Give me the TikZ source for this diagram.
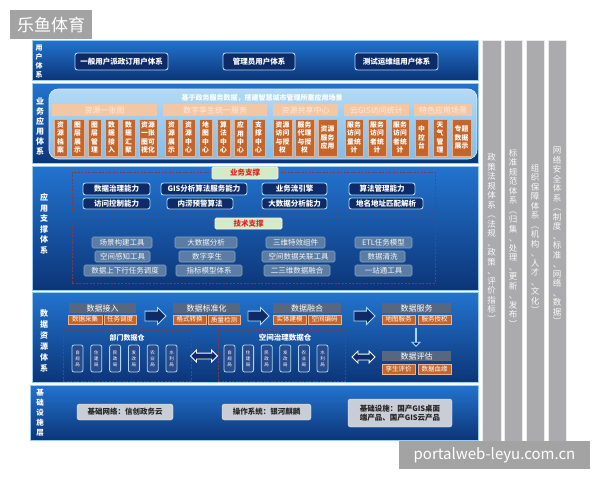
\documentclass[tikz,border=0pt]{standalone}
\usepackage{fontspec}
\setmainfont{Noto Sans CJK SC}
\usetikzlibrary{shapes.arrows}
\definecolor{rowtop}{HTML}{2374CF}
\definecolor{rowbot}{HTML}{0C3578}
\definecolor{rowedge}{HTML}{9CCBF0}
\definecolor{navy}{HTML}{0E2B68}
\definecolor{navyedge}{HTML}{A9D9F7}
\definecolor{pantop}{HTML}{B3DAF5}
\definecolor{panbot}{HTML}{86BCE6}
\definecolor{peach}{HTML}{F4C7A4}
\definecolor{peachtxt}{HTML}{FCEBDD}
\definecolor{orng}{HTML}{C4662C}
\definecolor{orngedge}{HTML}{EDB089}
\definecolor{techfill}{HTML}{5B7DA5}
\definecolor{techedge}{HTML}{86A3C6}
\definecolor{greenlab}{HTML}{D6EAC6}
\definecolor{redtxt}{HTML}{D9261C}
\definecolor{dashred}{HTML}{7E3B4E}
\definecolor{slate}{HTML}{56677F}
\definecolor{grycol}{HTML}{ABABAD}
\definecolor{wmgray}{HTML}{A3A3A3}
\definecolor{infrafill}{HTML}{C9CED6}
\definecolor{smallfill}{HTML}{2A4C8C}
\newcommand\fsz[2]{\fontsize{#1}{#2}\selectfont}
\newcommand\mybx[7]{\node[#1,minimum width={#5-#3},minimum height={#6-#4}] (#2) at ({(#3+#5)/2},{(#4+#6)/2}) {#7};}
\let\vtxend\relax
\def\vtxa#1{\ifx#1\vtxend\else\hbox to 1em{\hss#1\hss}\expandafter\vtxa\fi}
\newcommand\vtext[2]{\vbox{\baselineskip=#1pt\lineskiplimit=-20pt\lineskip=0pt\expandafter\vtxa#2\vtxend}}
\begin{document}
\begin{tikzpicture}[x=1pt,y=-1pt,
 row/.style={draw=rowedge,line width=0.8pt,top color=rowtop,bottom color=rowbot,inner sep=0pt},
 navybox/.style={draw=navyedge,line width=0.9pt,fill=navy,rounded corners=2.5pt,text=white,font=\fsz{7.5}{9}\bfseries,inner sep=0pt},
 peachbox/.style={fill=peach,text=peachtxt,font=\fsz{8}{9},inner sep=0pt},
 orbox/.style={fill=orng,draw=orngedge,line width=0.6pt,text=white,font=\fsz{6.8}{8.4}\bfseries,align=center,inner sep=0pt},
 techbox/.style={fill=techfill,draw=techedge,line width=0.6pt,rounded corners=1.5pt,text=white!92!techfill,font=\fsz{7.5}{9},inner sep=0pt},
 greenbox/.style={fill=greenlab,draw=white!60!greenlab,line width=0.8pt,rounded corners=1.5pt,text=redtxt,font=\fsz{7.5}{9}\bfseries,inner sep=0pt},
 dashbox/.style={draw=dashred,line width=0.7pt,dash pattern=on 2pt off 1.5pt,inner sep=0pt},
 hdrbox/.style={fill=slate,text=white,font=\fsz{8}{9},inner sep=0pt},
 subbox/.style={fill=orng,draw=orngedge,line width=0.6pt,text=white,font=\fsz{6.5}{8},inner sep=0pt},
 smallbox/.style={fill=smallfill,draw=navyedge,line width=0.8pt,rounded corners=2pt,text=white,font=\fsz{4.5}{6},inner sep=0pt},
 infrabox/.style={fill=infrafill,draw=white!60!infrafill,rounded corners=2.5pt,text=black!85,font=\fsz{7.5}{9}\bfseries,inner sep=0pt,align=center},
 sidelab/.style={text=white,inner sep=0pt},
 colbox/.style={fill=grycol,draw=white!75!grycol,line width=0.5pt,inner sep=0pt},
 coltxt/.style={text=white!93!grycol,font=\fsz{8.5}{9.5},inner sep=0pt},
 barrow/.style={single arrow,fill=navy,draw=navyedge,line width=0.9pt,inner xsep=0pt,inner ysep=4.5pt,single arrow head extend=3.5pt,minimum height=21pt},
 darrow/.style={double arrow,fill=navy,draw=white,line width=0.8pt,inner xsep=0pt,inner ysep=2.5pt,double arrow head extend=3pt},
 wm/.style={fill=wmgray,text=white,inner sep=0pt}
]
\useasboundingbox (0,0) rectangle (600,480);
\fill[white] (0,0) rectangle (600,480);
% rows
\mybx{row}{rUser}{32}{40}{478}{80}{}
\mybx{row}{rBiz}{32}{83}{478}{163}{}
\mybx{row}{rApp}{32}{166}{478}{290}{}
\mybx{row}{rData}{32}{292}{478}{382}{}
\mybx{row}{rInfra}{30}{385}{478}{440}{}
% side labels
\node[sidelab,font=\fsz{7}{9}\bfseries] (lab1) at (39,62) {\vtext{9}{用户体系}};
\node[sidelab,font=\fsz{8}{10}\bfseries] (lab2) at (40,127) {\vtext{10}{业务应用体系}};
\node[sidelab,font=\fsz{8}{10}\bfseries] (lab3) at (44,224) {\vtext{10.5}{应用支撑体系}};
\node[sidelab,font=\fsz{8}{10}\bfseries] (lab4) at (44,341) {\vtext{11}{数据资源体系}};
\node[sidelab,font=\fsz{7.5}{10}\bfseries] (lab5) at (40,413) {\vtext{10}{基础设施层}};
% user row
\mybx{navybox}{u1}{75}{53}{168}{70}{一般用户派政订用户体系}
\mybx{navybox}{u2}{223}{53}{295}{70}{管理员用户体系}
\mybx{navybox}{u3}{355}{53}{438}{70}{测试运维组用户体系}
% business row
\node[top color=pantop,bottom color=panbot,draw=white!60!pantop,line width=0.6pt,rounded corners=9pt,minimum width=428,minimum height=70,inner sep=0pt] (bizpanel) at (263,124) {};
\node[text=white,font=\fsz{7}{8}\bfseries,inner sep=0pt] (biztitle) at (262,98) {基于政务服务数据，搭建智慧城市管理所需应用场景};
\mybx{peachbox}{h1}{52}{104}{157}{116}{资源一张图}
\mybx{peachbox}{h2}{163}{104}{267}{116}{数字孪生统一服务}
\mybx{peachbox}{h3}{273}{104}{338}{116}{资源共享中心}
\mybx{peachbox}{h4}{344}{104}{409}{116}{云GIS访问统计}
\mybx{peachbox}{h5}{414}{104}{472}{116}{特色应用场景}
\mybx{orbox}{o1}{54}{119}{67}{156}{资\\源\\档\\案}
\mybx{orbox}{o2}{71}{119}{84}{156}{图\\层\\展\\示}
\mybx{orbox}{o3}{88}{119}{101}{156}{图\\层\\管\\理}
\mybx{orbox}{o4}{105}{119}{118}{156}{数\\据\\接\\入}
\mybx{orbox}{o5}{122}{119}{135}{156}{数\\据\\汇\\聚}
\mybx{orbox}{o6}{139}{119}{157}{156}{资源\\一张\\图可\\视化}
\mybx{orbox}{o7}{165}{119}{178}{156}{资\\源\\展\\示}
\mybx{orbox}{o8}{182}{119}{195}{156}{资\\源\\中\\心}
\mybx{orbox}{o9}{199}{119}{212}{156}{地\\图\\中\\心}
\mybx{orbox}{o10}{217}{119}{230}{156}{算\\法\\中\\心}
\mybx{orbox}{o11}{234}{119}{247}{156}{应\\用\\中\\心}
\mybx{orbox}{o12}{252}{119}{265}{156}{支\\撑\\中\\心}
\mybx{orbox}{o13}{273}{119}{292}{156}{资源\\访问\\与授\\权}
\mybx{orbox}{o14}{295}{119}{314}{156}{服务\\代理\\与授\\权}
\mybx{orbox}{o15}{318}{119}{337}{156}{资源\\服务\\应用}
\mybx{orbox}{o16}{345}{119}{363}{156}{服务\\访问\\量统\\计}
\mybx{orbox}{o17}{368}{119}{386}{156}{服务\\访问\\者统\\计}
\mybx{orbox}{o18}{391}{119}{409}{156}{服务\\访问\\者统\\计}
\mybx{orbox}{o19}{415}{119}{428}{156}{中\\控\\台}
\mybx{orbox}{o20}{433}{119}{447}{156}{天\\气\\管\\理}
\mybx{orbox}{o21}{452}{119}{471}{156}{专题\\数据\\展示}
% application support row
\mybx{dashbox}{ywbox}{72}{172}{435}{213}{}
\mybx{greenbox}{ywlab}{212}{167}{278}{179}{业务支撑}
\mybx{navybox}{b1}{83}{183}{150}{195}{数据治理能力}
\mybx{navybox}{b2}{161}{183}{247}{195}{GIS分析算法服务能力}
\mybx{navybox}{b3}{262}{183}{327}{195}{业务流引擎}
\mybx{navybox}{b4}{349}{183}{415}{195}{算法管理能力}
\mybx{navybox}{b5}{83}{198}{150}{209}{访问控制能力}
\mybx{navybox}{b6}{167}{198}{233}{209}{内涝预警算法}
\mybx{navybox}{b7}{262}{198}{327}{209}{大数据分析能力}
\mybx{navybox}{b8}{349}{198}{423}{209}{地名地址匹配解析}
\mybx{dashbox}{jsbox}{72}{223}{435}{283}{}
\mybx{greenbox}{jslab}{215}{218}{282}{229}{技术支撑}
\mybx{techbox}{t1}{92}{237}{152}{248}{场景构建工具}
\mybx{techbox}{t2}{175}{237}{237}{248}{大数据分析}
\mybx{techbox}{t3}{266}{237}{325}{248}{三维特效组件}
\mybx{techbox}{t4}{355}{237}{412}{248}{ETL任务模型}
\mybx{techbox}{t5}{95}{251}{150}{262}{空间感知工具}
\mybx{techbox}{t6}{179}{251}{235}{262}{数字孪生}
\mybx{techbox}{t7}{262}{251}{335}{262}{空间数据关联工具}
\mybx{techbox}{t8}{360}{251}{405}{262}{数据清洗}
\mybx{techbox}{t9}{84}{265}{166}{276}{数据上下行任务调度}
\mybx{techbox}{t10}{176}{265}{242}{276}{指标模型体系}
\mybx{techbox}{t11}{264}{265}{330}{276}{二三维数据融合}
\mybx{techbox}{t12}{355}{265}{412}{276}{一站通工具}
% data row
\mybx{hdrbox}{dj}{69}{303}{136}{313}{数据接入}
\mybx{subbox}{dj1}{68}{315}{102}{324}{数据采集}
\mybx{subbox}{dj2}{104}{315}{136}{324}{任务调度}
\mybx{hdrbox}{bz}{173}{303}{240}{313}{数据标准化}
\mybx{subbox}{bz1}{173}{315}{206}{324}{格式转换}
\mybx{subbox}{bz2}{208}{315}{240}{324}{质量检测}
\mybx{hdrbox}{rh}{273}{303}{341}{313}{数据融合}
\mybx{subbox}{rh1}{273}{315}{306}{324}{实体建模}
\mybx{subbox}{rh2}{308}{315}{341}{324}{空间编码}
\mybx{hdrbox}{fw}{382}{303}{451}{313}{数据服务}
\mybx{subbox}{fw1}{382}{315}{415}{324}{地图服务}
\mybx{subbox}{fw2}{418}{315}{451}{324}{服务授权}
\mybx{hdrbox}{pg}{382}{351}{451}{361}{数据评估}
\mybx{subbox}{pg1}{382}{364}{415}{374}{孪生评价}
\mybx{subbox}{pg2}{418}{364}{451}{374}{数据血缘}
\node[barrow] (a1) at (153,316) {};
\node[barrow] (a2) at (256,316) {};
\node[barrow] (a3) at (362,316) {};
\node[barrow,shape border rotate=270,minimum height=18pt] (a4) at (416,337) {};
\mybx{dashbox}{wh1}{63}{330}{191}{381}{}
\mybx{dashbox}{wh2}{218}{330}{345}{381}{}
\node[text=white,font=\fsz{7}{8}\bfseries,inner sep=0pt] (wh1t) at (127,338) {部门数据仓};
\node[text=white,font=\fsz{7.5}{8}\bfseries,inner sep=0pt] (wh2t) at (285,338) {空间治理数据仓};
\foreach \i/\xx/\lab in {1/72/自规局,2/90.8/住建局,3/109.6/民政局,4/128.4/发改局,5/147.2/农业局,6/166/水利局}{
  \node[smallbox,minimum width=11,minimum height=27] (d\i) at (\xx+5.5,358.5) {\vtext{6}{\lab}};
}
\foreach \i/\xx/\lab in {1/224/自规局,2/242.6/住建局,3/261.2/民政局,4/279.8/发改局,5/298.4/农业局,6/317/水利局}{
  \node[smallbox,minimum width=11,minimum height=27] (s\i) at (\xx+5.5,358.5) {\vtext{6}{\lab}};
}
\node[darrow,minimum height=27pt] (da1) at (204,356) {};
\node[darrow,minimum height=23pt] (da2) at (363.5,357) {};
% infrastructure row
\mybx{infrabox}{i1}{77}{404}{173}{420}{基础网络：信创政务云}
\mybx{infrabox}{i2}{222}{404}{311}{420}{操作系统：银河麒麟}
\mybx{infrabox}{i3}{348}{399}{452}{427}{基础设施：国产GIS桌面\\端产品、国产GIS云产品}
% right grey columns
\mybx{colbox}{g1}{482}{40}{501}{441}{}
\mybx{colbox}{g2}{504}{40}{522}{441}{}
\mybx{colbox}{g3}{526}{40}{544}{441}{}
\mybx{colbox}{g4}{548}{40}{566}{441}{}
\node[coltxt] (g1t) at (491.5,238) {\vtext{9.5}{政策法规体系︵法规、政策、评价指标︶}};
\node[coltxt] (g2t) at (513,238) {\vtext{9.5}{标准规范体系︵归集、处理、更新、发布︶}};
\node[coltxt] (g3t) at (535,239) {\vtext{9.5}{组织保障体系︵机构、人才、文化︶}};
\node[coltxt] (g4t) at (557,236) {\vtext{9.5}{网络安全体系︵制度、标准、网络、数据︶}};
% watermarks
\mybx{wm}{wm1}{10}{10}{92}{39}{\fsz{17}{18}乐鱼体育}
\mybx{wm}{wm2}{399}{441}{590}{469}{\fsz{15}{16}portalweb-leyu.com.cn}
\end{tikzpicture}
\end{document}
